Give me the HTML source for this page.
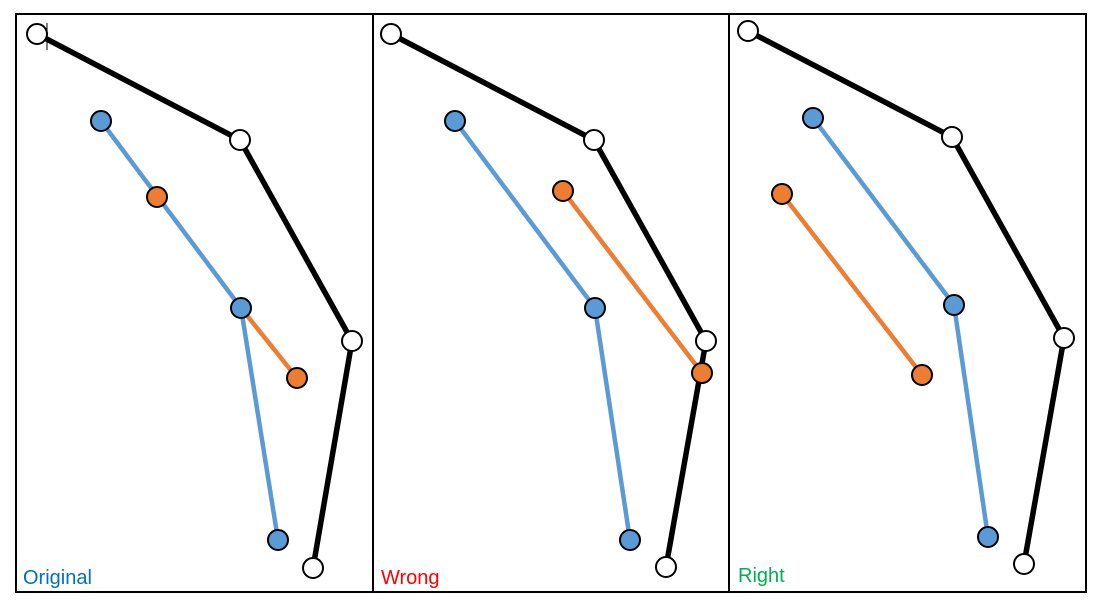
<!DOCTYPE html>
<html><head><meta charset="utf-8"><style>html,body{margin:0;padding:0;background:#fff}</style></head>
<body>
<svg width="1096" height="602" xmlns="http://www.w3.org/2000/svg" style="display:block">
<rect x="16" y="14" width="1070" height="578" fill="none" stroke="#000" stroke-width="2"/>
<line x1="373" y1="14" x2="373" y2="592" stroke="#000" stroke-width="2"/>
<line x1="729" y1="14" x2="729" y2="592" stroke="#000" stroke-width="2"/>
<g fill="none" stroke-linejoin="round">
<polyline points="37,34 240,140 352,341 313,568" stroke="#000" stroke-width="5.5"/>
<polyline points="101,121 241,308 278,540" stroke="#5B9BD5" stroke-width="4.5"/>
<line x1="241" y1="308" x2="297" y2="378" stroke="#ED7D31" stroke-width="4.5"/>
<polyline points="391,34 594,140 706,341 666,567" stroke="#000" stroke-width="5.5"/>
<polyline points="455,121 595,308 630,540" stroke="#5B9BD5" stroke-width="4.5"/>
<line x1="563" y1="191" x2="702" y2="373" stroke="#ED7D31" stroke-width="4.5"/>
<polyline points="748,31 952,137 1064,338 1024,564" stroke="#000" stroke-width="5.5"/>
<polyline points="813,118 954,305 988,537" stroke="#5B9BD5" stroke-width="4.5"/>
<line x1="782" y1="194" x2="922" y2="375" stroke="#ED7D31" stroke-width="4.5"/>
</g>
<g stroke="#000" stroke-width="2">
<g fill="#fff">
<circle cx="37" cy="34" r="10"/><circle cx="240" cy="140" r="10"/><circle cx="352" cy="341" r="10"/><circle cx="313" cy="568" r="10"/>
<circle cx="391" cy="34" r="10"/><circle cx="594" cy="140" r="10"/><circle cx="706" cy="341" r="10"/><circle cx="666" cy="567" r="10"/>
<circle cx="748" cy="31" r="10"/><circle cx="952" cy="137" r="10"/><circle cx="1064" cy="338" r="10"/><circle cx="1024" cy="564" r="10"/>
</g>
<g fill="#5B9BD5">
<circle cx="101" cy="121" r="10"/><circle cx="241" cy="308" r="10"/><circle cx="278" cy="540" r="10"/>
<circle cx="455" cy="121" r="10"/><circle cx="595" cy="308" r="10"/><circle cx="630" cy="540" r="10"/>
<circle cx="813" cy="118" r="10"/><circle cx="954" cy="305" r="10"/><circle cx="988" cy="537" r="10"/>
</g>
<g fill="#ED7D31">
<circle cx="157" cy="197" r="10"/><circle cx="297" cy="378" r="10"/>
<circle cx="563" cy="191" r="10"/><circle cx="702" cy="373" r="10"/>
<circle cx="782" cy="194" r="10"/><circle cx="922" cy="375" r="10"/>
</g>
</g>
<line x1="47" y1="23" x2="47" y2="50" stroke="#000" stroke-width="1"/>
<g font-family="Liberation Sans, sans-serif" font-size="20">
<text x="23" y="584" fill="#0070C0">Original</text>
<text x="381" y="584" fill="#FF0000">Wrong</text>
<text x="738" y="582" fill="#00B050">Right</text>
</g>
</svg>
</body></html>
